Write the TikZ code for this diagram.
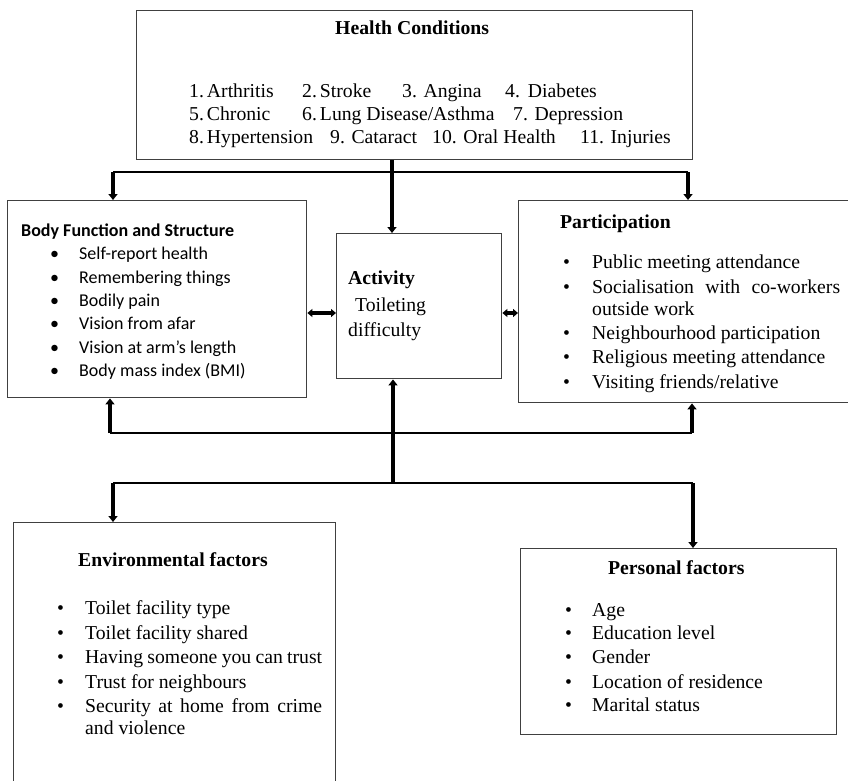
\documentclass[tikz,border=0pt]{standalone}
\usepackage{fontspec}
\setmainfont{Liberation Serif}
\newfontfamily\carl{Carlito}
\usetikzlibrary{arrows.meta}
\begin{document}
\begin{tikzpicture}[x=1pt,y=-1pt,
  box/.style={draw=black!75, line width=1.4pt, anchor=north west, inner sep=0pt},
  tx/.style={anchor=base west, inner sep=0pt, font=\fontsize{19.7}{24}\selectfont},
  bx/.style={anchor=base west, inner sep=0pt, font=\fontsize{19.7}{24}\selectfont\bfseries},
  cx/.style={anchor=base west, inner sep=0pt, font=\carl\fontsize{18}{22}\selectfont},
  cbx/.style={anchor=base west, inner sep=0pt, font=\carl\fontsize{18}{22}\selectfont\bfseries},
  bar/.style={line width=3.2pt, -{Triangle[length=6pt,width=9pt]}},
  dbar/.style={line width=3.2pt, {Triangle[length=5pt,width=8pt]}-{Triangle[length=5pt,width=8pt]}},
  link/.style={line width=1.8pt},
]
\path[use as bounding box] (0,0) rectangle (848,781);
\fill[white] (0,0) rectangle (848,781);

% boxes
\node[box, minimum width=556pt, minimum height=149pt] (health) at (136,10) {};
\node[box, minimum width=299pt, minimum height=197pt] (body) at (7,200) {};
\node[box, minimum width=165pt, minimum height=145pt] (activity) at (336,233) {};
\node[box, minimum width=334pt, minimum height=202pt] (part) at (518,200) {};
\node[box, minimum width=322pt, minimum height=290pt] (env) at (13,522) {};
\node[box, minimum width=316pt, minimum height=186pt] (pers) at (520,548) {};

% health conditions
\node[bx] (hct) at (335,35) {Health Conditions};
\node[tx] (h1) at (189,98) {1.\hspace{3pt}Arthritis};
\node[tx] (h2) at (302,98) {2.\hspace{3pt}Stroke};
\node[tx] (h3) at (402,98) {3. Angina};
\node[tx] (h4) at (505,98) {4.\hspace{8pt}Diabetes};
\node[tx] (h5) at (189,121) {5.\hspace{3pt}Chronic};
\node[tx] (h6) at (302,121) {6.\hspace{3pt}Lung Disease/Asthma};
\node[tx] (h7) at (513,121) {7. Depression};
\node[tx] (h8) at (189,143) {8.\hspace{3pt}Hypertension};
\node[tx] (h9) at (330,143) {9. Cataract};
\node[tx] (h10) at (432,143) {10. Oral Health};
\node[tx] (h11) at (580,143) {11. Injuries};

% body function
\node[cbx] (bft) at (21,236) {Body Function and Structure};
\foreach \y/\t [count=\i] in {259/Self-report health, 283/Remembering things, 306/Bodily pain, 329/Vision from afar, 353/Vision at arm’s length, 376/Body mass index (BMI)}{
  \node[cx] (bb\i) at (50,\y) {•};
  \node[cx] (bt\i) at (79,\y) {\t};
}

% activity
\node[bx] (act) at (348,284) {Activity};
\node[tx] (act1) at (355,311) {Toileting};
\node[tx] (act2) at (348,336) {difficulty};

% participation
\node[bx] (pt) at (560,228) {Participation};
\foreach \y [count=\i] in {268,293,339,363,388}{
  \node[tx] (pb\i) at (563,\y) {•};
}
\node[tx] (p1) at (592,268) {Public meeting attendance};
\node[tx] (p2) at (592,293) {\hbox to 248pt{Socialisation\hfill with\hfill co-workers}};
\node[tx] (p2b) at (592,315) {outside work};
\node[tx] (p3) at (592,339) {Neighbourhood participation};
\node[tx] (p4) at (592,363) {Religious meeting attendance};
\node[tx] (p5) at (592,388) {Visiting friends/relative};

% environmental
\node[bx] (et) at (78,566) {Environmental factors};
\foreach \y [count=\i] in {614,639,663,688,712}{
  \node[tx] (eb\i) at (57,\y) {•};
}
\node[tx] (e1) at (85,614) {Toilet facility type};
\node[tx] (e2) at (85,639) {Toilet facility shared};
\node[tx] (e3) at (85,663) {\hbox to 237pt{Having\hfill someone\hfill you\hfill can\hfill trust}};
\node[tx] (e4) at (85,688) {Trust for neighbours};
\node[tx] (e5) at (85,712) {\hbox to 237pt{Security\hfill at\hfill home\hfill from\hfill crime}};
\node[tx] (e5b) at (85,734) {and violence};

% personal
\node[bx] (pft) at (608,574) {Personal factors};
\foreach \y/\t [count=\i] in {616/Age, 639/Education level, 663/Gender, 688/Location of residence, 711/Marital status}{
  \node[tx] (fb\i) at (565,\y) {•};
  \node[tx] (ft\i) at (592,\y) {\t};
}

% connectors: top
\coordinate (cx) at (392,0);
\coordinate (bl) at (113,172);
\coordinate (br) at (688,172);
\draw[link] (bl) -- (br);
\draw[bar] (bl) -- (bl |- body.north);
\draw[bar] (br) -- (br |- part.north);
\draw[bar] (health.south -| cx) -- (activity.north -| cx);

% middle
\coordinate (my) at (0,313);
\draw[dbar] (activity.west |- my) -- (body.east |- my);
\draw[dbar] (activity.east |- my) -- (part.west |- my);

% lower branch to body/participation
\coordinate (ml) at (110,433);
\coordinate (mr) at (692,433);
\draw[link] (ml) -- (mr);
\draw[bar] (ml) -- (ml |- body.south);
\draw[bar] (mr) -- (mr |- part.south);

% center bottom
\coordinate (cb) at (393,483);
\draw[bar] (cb) -- (activity.south -| cb);

% bottom branch
\coordinate (ll) at (113,483);
\coordinate (lr) at (693,483);
\draw[link] (ll) -- (lr);
\draw[bar] (ll) -- (ll |- env.north);
\draw[bar] (lr) -- (lr |- pers.north);
\end{tikzpicture}
\end{document}
